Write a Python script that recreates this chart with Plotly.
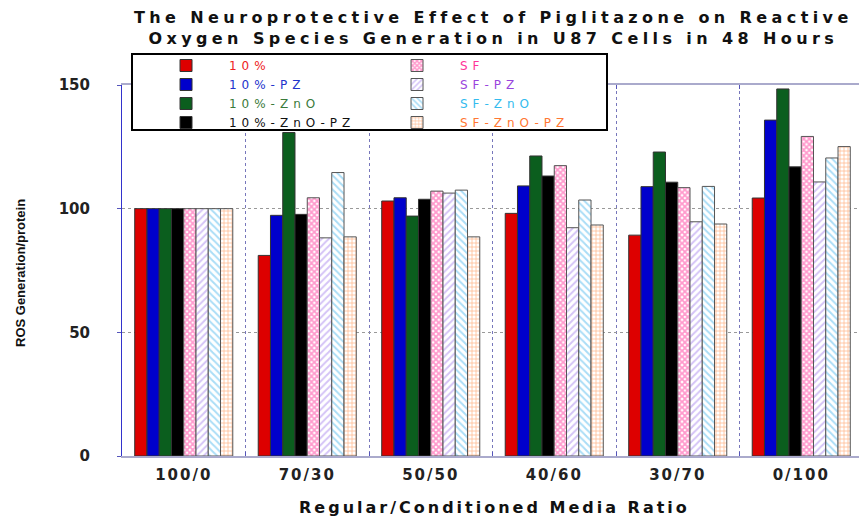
import plotly.graph_objects as go

categories = ["100/0", "70/30", "50/50", "40/60", "30/70", "0/100"]
series_names = ["10%", "10%-PZ", "10%-ZnO", "10%-ZnO-PZ", "SF", "SF-PZ", "SF-ZnO", "SF-ZnO-PZ"]

v_10 = [100, 81.1, 103.1, 98.1, 89.3, 104.3]
v_10_pz = [100, 97.3, 104.4, 109.2, 108.9, 135.8]
v_10_zno = [100, 130.8, 97.0, 121.3, 122.9, 148.4]
v_10_zno_pz = [100, 97.7, 103.8, 113.2, 110.7, 116.9]
v_sf = [100, 104.4, 107.1, 117.4, 108.5, 129.2]
v_sf_pz = [100, 88.2, 106.3, 92.3, 94.7, 110.8]
v_sf_zno = [100, 114.6, 107.5, 103.5, 109.0, 120.5]
v_sf_zno_pz = [100, 88.6, 88.6, 93.4, 93.8, 125.1]

values = [v_10, v_10_pz, v_10_zno, v_10_zno_pz, v_sf, v_sf_pz, v_sf_zno, v_sf_zno_pz]

fill_colors = ["#DD0000", "#0000CC", "#0B5E1E", "#000000", "#FFFFFF", "#FFFFFF", "#FFFFFF", "#FFFFFF"]
text_colors = ["#EE2222", "#2233CC", "#3A7A3A", "#111111", "#FF3399", "#9944DD", "#33BBEE", "#FF7733"]
patterns = [None, None, None, None,
            dict(shape="x", fgcolor="#FF3399", bgcolor="#FFFFFF", size=4, solidity=0.7),
            dict(shape="/", fgcolor="#AA88EE", bgcolor="#FFFFFF", size=5, solidity=0.4),
            dict(shape="\\", fgcolor="#55BBEE", bgcolor="#FFFFFF", size=5, solidity=0.4),
            dict(shape="+", fgcolor="#FF7722", bgcolor="#FFFFFF", size=4, solidity=0.35)]
line_colors = ["#333333"] * 4 + ["#555555"] * 4
ranks = [1, 3, 5, 7, 2, 4, 6, 8]

W, H = 859, 519
ML, MR, MT, MB = 122, 0, 85, 63
PW, PH = W - ML - MR, H - MT - MB
GROUP_PX = 123.5

def px_x(x):
    return (x - ML) / PW

def px_y(y):
    return (H - MB - y) / PH

def spaced(text, px):
    return f'<span style="letter-spacing:{px}px">{text}</span>'

fig = go.Figure()
pad = "\u00a0" * 6
for name, vals, fc, tc, pat, lc, rk in zip(series_names, values, fill_colors, text_colors, patterns, line_colors, ranks):
    marker = dict(color=fc, line=dict(color=lc, width=1))
    if pat is not None:
        marker["pattern"] = pat
    fig.add_trace(go.Bar(
        x=categories, y=vals,
        name=f'{pad}<span style="color:{tc};letter-spacing:5px">{name}</span>',
        marker=marker, legendrank=rk,
    ))

fig.update_layout(
    width=W, height=H,
    margin=dict(l=ML, r=MR, t=MT, b=MB),
    paper_bgcolor="white", plot_bgcolor="white",
    barmode="group", bargap=0.206, bargroupgap=0,
    showlegend=True,
    legend=dict(
        orientation="h", x=px_x(172), y=px_y(51), xanchor="left", yanchor="top",
        xref="paper", yref="paper",
        bgcolor="rgba(0,0,0,0)", borderwidth=0,
        entrywidth=186, entrywidthmode="pixels",
        font=dict(family="DejaVu Sans", size=12, color="#111"),
        traceorder="normal",
    ),
    font=dict(family="DejaVu Sans", color="#111"),
)

fig.update_xaxes(
    type="category", range=[-0.5, -0.5 + PW / GROUP_PX],
    tickson="boundaries", ticks="inside", ticklen=4, tickcolor="#5555BB",
    showgrid=True, gridcolor="#7777BB", griddash="dot", gridwidth=1,
    showline=True, linecolor="#AAAACC", linewidth=1.5, mirror="ticks",
    tickfont=dict(family="DejaVu Sans", size=15, color="#222", weight="bold"),
    tickvals=categories, ticktext=[spaced(c, 2) for c in categories],
    ticklabelstandoff=4,
)
fig.update_yaxes(
    range=[0, 150], tickvals=[0, 50, 100, 150],
    ticksuffix="\u00a0" * 3,
    ticks="outside", ticklen=4, tickcolor="#5555BB",
    showgrid=True, gridcolor="#999999", griddash="dot", gridwidth=1,
    showline=True, linecolor="#3333CC", linewidth=1, mirror=False,
    zeroline=False,
    tickfont=dict(family="DejaVu Sans", size=15, color="#222", weight="bold"),
    ticklabelstandoff=24,
)

fig.add_shape(type="rect", xref="paper", yref="paper",
              x0=px_x(132), x1=px_x(607), y0=px_y(130), y1=px_y(54),
              line=dict(color="black", width=2), fillcolor="white", layer="above")

title_font = dict(family="DejaVu Sans", size=16, color="#111", weight="bold")
fig.add_annotation(text=spaced("The Neuroprotective Effect of Piglitazone on Reactive", 4.4)
                   + "<br>" + spaced("Oxygen Species Generation in U87 Cells in 48 Hours", 4.4),
                   xref="paper", yref="paper", x=px_x(493), y=px_y(28),
                   xanchor="center", yanchor="middle", showarrow=False, font=title_font)
fig.add_annotation(text=spaced("Regular/Conditioned Media Ratio", 3),
                   xref="paper", yref="paper", x=px_x(494), y=px_y(507),
                   xanchor="center", yanchor="middle", showarrow=False,
                   font=dict(family="DejaVu Sans", size=16, color="#111", weight="bold"))
fig.add_annotation(text="ROS Generation/protein", textangle=-90,
                   xref="paper", yref="paper", x=px_x(20), y=px_y(273),
                   xanchor="center", yanchor="middle", showarrow=False,
                   font=dict(family="Liberation Sans", size=13, color="#111", weight="bold"))

fig.write_html("out.html", config={"displayModeBar": False},
               post_script="document.body.style.margin='0';document.body.style.overflow='hidden';")
